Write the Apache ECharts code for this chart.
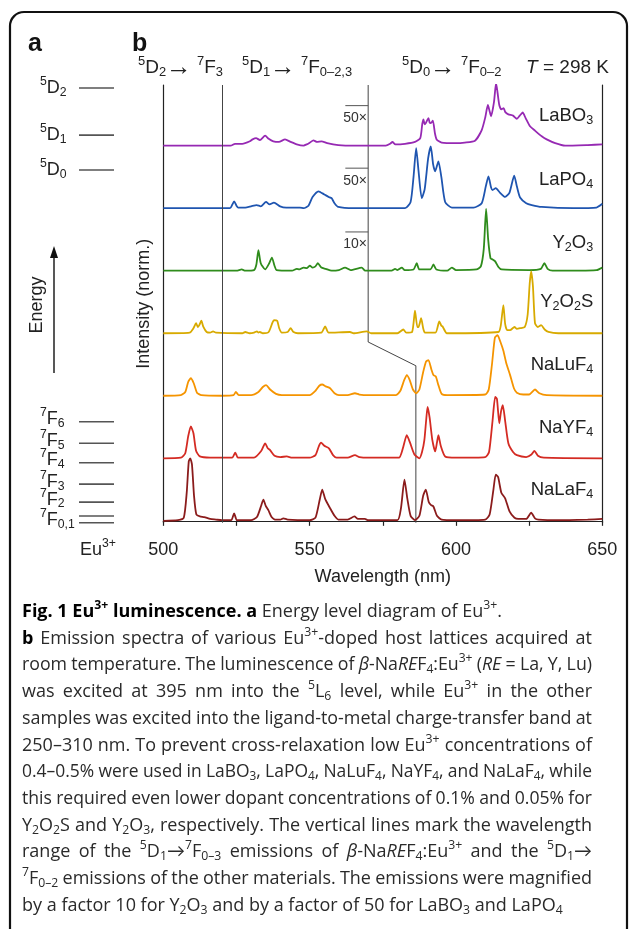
<!DOCTYPE html>
<html>
<head>
<meta charset="utf-8">
<script src="https://cdn.jsdelivr.net/npm/echarts@6/dist/echarts.min.js"></script>
<style>
  html, body { margin: 0; padding: 0; background: #fff; }
  #main { width: 629px; height: 929px; }
</style>
</head>
<body>
<div id="main"></div>
<script>
// spectra: [wavelength (nm), normalized intensity above own baseline]
const LaBO3 = [[500,0],[523,0],[524.5,0.03],[527,0.03],[529.6,0.07],[530.5,0.1],[531.7,0.12],[533,0.09],[534.8,0.16],[536,0.11],[537.6,0.07],[539.5,0.06],[541.6,0.1],[543.5,0.06],[545.6,0.02],[547.9,0],[549,0.02],[550.1,0.05],[551.3,0.085],[552.5,0.06],[554.1,0.07],[556,0.04],[559.8,0.01],[565,0],[576,0],[577.5,0.03],[578.3,0.06],[579.3,0.02],[582.6,0.03],[586,0.06],[587.8,0.12],[588.5,0.35],[588.9,0.42],[589.3,0.34],[589.7,0.36],[590.6,0.44],[591,0.37],[591.4,0.36],[592.1,0.4],[592.8,0.2],[593.4,0.1],[595.1,0.05],[600,0.04],[603,0.05],[606.5,0.08],[608.8,0.25],[610,0.45],[610.9,0.65],[611.5,0.55],[612,0.47],[613,0.7],[613.7,1.0],[614.2,0.85],[614.8,0.65],[615.5,0.58],[616.3,0.6],[616.8,0.54],[617.9,0.5],[619.5,0.48],[620.8,0.43],[621.8,0.48],[622.8,0.53],[623.8,0.44],[625.3,0.31],[627,0.24],[629.3,0.15],[631,0.1],[633.9,0.04],[637.3,0],[645,0.01],[650,0.02]];
const LaPO4 = [[500,0],[522.8,0],[523.5,0.05],[524.2,0.11],[525,0.04],[525.6,0.01],[528,0.01],[530,0.03],[531.9,0.05],[533.3,0.03],[535.1,0.1],[536.3,0.06],[537.8,0.09],[539.9,0.03],[542,0.01],[546.7,0.01],[548,0],[549.6,0.04],[551,0.18],[553,0.27],[555,0.22],[556.5,0.18],[557.5,0.16],[558.5,0.08],[559.8,0.02],[565,0],[582.6,0],[584.5,0.1],[585.5,0.5],[586.4,0.96],[587.2,0.6],[588.3,0.16],[589.3,0.3],[590.5,0.8],[591.4,0.99],[592.2,0.7],[592.9,0.59],[594,0.75],[595,0.5],[596.3,0.1],[598.6,0.01],[606,0.01],[608.8,0.08],[610.2,0.35],[611.1,0.51],[612,0.33],[612.5,0.29],[613.6,0.32],[615,0.25],[616.8,0.18],[618.3,0.25],[619.9,0.52],[620.8,0.35],[621.9,0.17],[624,0.08],[625.9,0.05],[629.3,0.02],[640,0],[648,0.01],[650,0.07]];
const Y2O3 = [[500,0],[525,0],[526.8,0.02],[528,0],[531,0.01],[531.8,0.1],[532.5,0.33],[533.3,0.12],[534.8,0.02],[536.2,0.12],[537.1,0.21],[538,0.08],[538.7,0.01],[544,0],[545.6,0.03],[546.5,0.02],[547.9,0.05],[549,0.04],[550.1,0.08],[551,0.05],[552,0.07],[552.8,0.12],[554,0.05],[555.5,0.03],[557.5,0],[560,0.01],[562.1,0.05],[564,0.01],[567.8,0.05],[569,0],[578,0],[579.2,0.03],[580,0.01],[581.5,0.05],[582.5,0.01],[585.5,0.02],[586.6,0.12],[587.5,0.02],[591.3,0.02],[592.3,0.1],[593.3,0.02],[597,0],[598.6,0.05],[600,0.01],[607,0.02],[608.5,0.07],[609.5,0.35],[610.3,0.99],[611,0.5],[611.8,0.2],[612.5,0.18],[613.4,0.15],[614.5,0.06],[615.6,0.02],[625,0.01],[629,0.03],[630.2,0.12],[631.3,0.03],[633,0],[648,0.01],[650,0.05]];
const Y2O2S = [[500,0],[509,0.01],[510.3,0.08],[511.2,0.16],[511.8,0.1],[512.3,0.13],[513,0.2],[513.7,0.1],[514.8,0.02],[516,0.01],[517,0.03],[518,0.01],[527,0],[528,0.02],[529.5,0],[531,0.01],[532,0.03],[532.5,0.01],[533,0.02],[534,0],[536,0.02],[537.3,0.17],[537.8,0.21],[538.9,0.2],[539.6,0.08],[540.5,0.01],[542.5,0.02],[543.5,0.08],[544.5,0.02],[546,0],[554,0.01],[555.3,0.11],[556.5,0.01],[563.8,0.02],[565,0],[569.5,0.03],[571,0],[580,0],[582,0.06],[583,0.01],[585,0.02],[586,0.36],[586.8,0.1],[587.2,0.1],[588.1,0.24],[588.8,0.08],[589.4,0.01],[593,0.01],[594.3,0.19],[595,0.12],[595.4,0.11],[596.2,0.04],[596.8,0],[614.5,0.02],[615.3,0.12],[616.2,0.45],[616.8,0.15],[617.5,0.05],[618.5,0.05],[620,0.1],[620.8,0.07],[621.9,0.08],[623.5,0.1],[624.5,0.3],[625.2,0.8],[625.7,0.99],[626.3,0.75],[627,0.16],[628,0.1],[629.1,0.13],[630.3,0.06],[631.6,0.02],[635,0],[650,0]];
const NaLuF4 = [[500,0],[506,0.01],[507.5,0.06],[508.5,0.22],[509.4,0.28],[510.4,0.2],[511.5,0.05],[513,0.01],[520,0],[524,0.01],[524.8,0.06],[525.8,0.01],[530,0.01],[532.5,0.06],[534,0.14],[535.1,0.17],[536.5,0.1],[538.5,0.03],[540.5,0.01],[550,0.01],[552,0.08],[553.3,0.16],[554.3,0.18],[555.5,0.15],[557,0.12],[558.5,0.04],[560,0.01],[563,0.01],[565.5,0.04],[567,0.02],[570,0.01],[579.5,0.01],[581,0.08],[582.3,0.25],[583.2,0.33],[584.2,0.25],[585.3,0.1],[586.4,0.04],[587.5,0.1],[588.8,0.38],[589.8,0.55],[590.6,0.57],[591.6,0.42],[592.3,0.33],[593.1,0.31],[594,0.17],[595.1,0.03],[597,0.01],[610,0.02],[611.2,0.1],[612.3,0.5],[613.3,0.93],[614.2,0.97],[615.2,0.86],[616.2,0.72],[617.2,0.52],[618.5,0.33],[619.8,0.12],[620.8,0.05],[623,0.02],[625,0.02],[627,0.1],[628.5,0.04],[631,0.01],[650,0]];
const NaYF4 = [[500,0],[506,0.01],[507.5,0.08],[508.5,0.35],[509.4,0.51],[510.3,0.4],[511.2,0.12],[512.5,0.03],[516,0.01],[523.5,0.01],[524.6,0.09],[525.5,0.01],[531,0.01],[533.5,0.12],[534.8,0.24],[535.7,0.16],[536.5,0.13],[538,0.04],[540,0.02],[542.2,0.03],[544,0.01],[550,0.01],[552,0.05],[553.2,0.2],[553.9,0.25],[555,0.2],[556.6,0.16],[558,0.05],[559.2,0.01],[563,0.01],[565.5,0.05],[567,0.02],[570,0.01],[580.5,0.01],[581.8,0.15],[583.2,0.37],[584.3,0.25],[585.8,0.06],[587.5,0],[588.4,0.1],[589.2,0.29],[589.8,0.6],[590.3,0.82],[591,0.65],[591.9,0.3],[592.9,0.11],[593.5,0.25],[594,0.37],[594.8,0.2],[596.3,0.03],[600,0.01],[610,0.02],[611.3,0.1],[612.5,0.6],[613.4,0.98],[614,0.95],[614.8,0.56],[615.4,0.75],[616,0.85],[616.8,0.6],[617.9,0.24],[619.5,0.1],[620.8,0.05],[624,0.02],[625.8,0.06],[626.8,0.12],[628,0.04],[630,0.01],[650,0]];
const NaLaF4 = [[500,0],[505,0.01],[507,0.05],[508,0.45],[508.7,0.95],[509.2,1.0],[509.8,0.9],[510.5,0.4],[511.3,0.1],[512.5,0.07],[514,0.06],[516,0.03],[518,0.02],[520,0.01],[523.2,0.01],[524.2,0.12],[525.2,0.01],[530,0.01],[532,0.06],[533.5,0.25],[534.2,0.34],[535,0.24],[535.9,0.17],[537,0.06],[538.2,0.02],[540,0.02],[541,0.04],[542.5,0.02],[550,0.01],[552,0.05],[553.5,0.35],[554.3,0.5],[555.3,0.35],[557,0.2],[558.5,0.08],[559.8,0.02],[563,0.02],[565.3,0.07],[566.5,0.03],[568.9,0.03],[570,0.01],[580,0.01],[581.2,0.2],[582.4,0.66],[583.4,0.35],[584.5,0.08],[586,0.01],[587.5,0.08],[588.8,0.4],[589.7,0.5],[590.7,0.3],[591.5,0.25],[592.3,0.23],[593.5,0.08],[595.1,0.02],[600,0.01],[610,0.02],[611.5,0.1],[612.8,0.5],[613.6,0.74],[614.4,0.7],[615.5,0.45],[616.8,0.36],[618.3,0.15],[620,0.05],[621.3,0.03],[624,0.03],[625.7,0.13],[627,0.04],[628.2,0.02],[635,0.01],[645,0.02],[650,0.03]];

const spectra = [LaBO3, LaPO4, Y2O3, Y2O2S, NaLuF4, NaYF4, NaLaF4];
const sampleLabels = ['LaBO{sub|3}', 'LaPO{sub|4}', 'Y{sub|2}O{sub|3}', 'Y{sub|2}O{sub|2}S', 'NaLuF{sub|4}', 'NaYF{sub|4}', 'NaLaF{sub|4}'];
const sampleOffsets = [6, 5, 4, 3, 2, 1, 0];
const sampleColors = ['#9629b3', '#1f55b0', '#2f8c1c', '#d8aa00', '#f59400', '#d42b23', '#8b1c1c'];
const labelLift = [0.47, 0.45, 0.44, 0.5, 0.49, 0.48, 0.49];

// range lines (nm) and the step of the 5D1 boundary
const rangeLineW = 520;
const boundaryW = [570, 570, 586.3, 586.3];
const boundaryI = [6.97, 2.86, 2.48, -0.03];
// magnification marks
const magLevels = [6.64, 5.64, 4.62];
const magText = ['50×', '50×', '10×'];

// energy level diagram (cm-1)
const levelNames = ['{sup|7}F{sub|0,1}', '', '{sup|7}F{sub|2}', '{sup|7}F{sub|3}', '{sup|7}F{sub|4}', '{sup|7}F{sub|5}', '{sup|7}F{sub|6}', '{sup|5}D{sub|0}', '{sup|5}D{sub|1}', '{sup|5}D{sub|2}'];
const levelEnergy = [0, 330, 1020, 1910, 2970, 3930, 5000, 17460, 19190, 21520];

const captionLines = [
  '{b|Fig. 1 Eu}{bsup|3+}{b| luminescence. a} Energy level diagram of Eu{sup|3+}.',
  '{b|b} Emission spectra of various Eu{sup|3+}-doped host lattices acquired at',
  'room temperature. The luminescence of {i|β}-Na{i|RE}F{sub|4}:Eu{sup|3+} ({i|RE} = La, Y, Lu)',
  'was excited at 395 nm into the {sup|5}L{sub|6} level, while Eu{sup|3+} in the other',
  'samples was excited into the ligand-to-metal charge-transfer band at',
  '250–310 nm. To prevent cross-relaxation low Eu{sup|3+} concentrations of',
  '0.4–0.5% were used in LaBO{sub|3}, LaPO{sub|4}, NaLuF{sub|4}, NaYF{sub|4}, and NaLaF{sub|4}, while',
  'this required even lower dopant concentrations of 0.1% and 0.05% for',
  'Y{sub|2}O{sub|2}S and Y{sub|2}O{sub|3}, respectively. The vertical lines mark the wavelength',
  'range of the {sup|5}D{sub|1}→{sup|7}F{sub|0–3} emissions of {i|β}-Na{i|RE}F{sub|4}:Eu{sup|3+} and the {sup|5}D{sub|1}→',
  '{sup|7}F{sub|0–2} emissions of the other materials. The emissions were magnified',
  'by a factor 10 for Y{sub|2}O{sub|3} and by a factor of 50 for LaBO{sub|3} and LaPO{sub|4}'
];
// lines that are set justified in the caption
const captionJustified = [false, true, true, true, true, true, true, true, true, true, true, false];

const FIG_FONT = "'Liberation Sans', Arial, sans-serif";
const CAP_FONT = "'Open Sans', Lato, sans-serif";
const CAP_LEFT = 22, CAP_RIGHT = 592;

function makeRich(size, family, color) {
  const small = size * 0.68;
  return {
    sup: { fontSize: small, fontFamily: family, fill: color, padding: [0, 0, size * 0.72, 0] },
    sub: { fontSize: small, fontFamily: family, fill: color, padding: [size * 0.5, 0, 0, 0] },
    b: { fontSize: size, fontFamily: family, fill: '#000', fontWeight: 'bold' },
    bsup: { fontSize: small, fontFamily: family, fill: '#000', fontWeight: 'bold', padding: [0, 0, size * 0.72, 0] },
    i: { fontSize: size, fontFamily: family, fill: color, fontStyle: 'italic' },
    arr: { fontSize: size * 1.35, fontFamily: family, fill: color }
  };
}

function textStyle(text, o) {
  const size = o.size || 18;
  const family = o.family || FIG_FONT;
  const color = o.color || '#222';
  return {
    text: text, fontSize: size, fontFamily: family, fill: color,
    fontWeight: o.weight || 'normal', fontStyle: o.style || 'normal',
    align: o.align || 'left', textAlign: o.align || 'left',
    verticalAlign: 'middle', textVerticalAlign: 'middle',
    lineHeight: size * 1.2,
    rich: makeRich(size, family, color)
  };
}

function txt(x, y, text, o) {
  o = o || {};
  return { type: 'text', x: x, y: y, rotation: o.rotation || 0, silent: true, style: textStyle(text, o) };
}

function measure(text, o) {
  const t = new echarts.graphic.Text({ style: textStyle(text, o) });
  return t.getBoundingRect().width;
}

const chart = echarts.init(document.getElementById('main'));

const spectrumSeries = spectra.map(function (d, k) {
  return {
    type: 'line', name: sampleLabels[k], xAxisIndex: 0, yAxisIndex: 0,
    data: d.map(function (p) { return [p[0], p[1] + sampleOffsets[k]]; }),
    symbol: 'none', smooth: 0.2, animation: false, z: 3,
    lineStyle: { color: sampleColors[k], width: 1.8 }
  };
});

const option = {
  backgroundColor: '#fff',
  animation: false,
  grid: [
    { left: 163.3, right: 26.7, top: 85, bottom: 406.3 },
    { left: 79, width: 35, top: 85, bottom: 406.3 }
  ],
  xAxis: [
    {
      type: 'value', gridIndex: 0, min: 500, max: 650, interval: 25,
      name: 'Wavelength (nm)', nameLocation: 'middle', nameGap: 45,
      nameTextStyle: { fontSize: 18, fontFamily: FIG_FONT, color: '#222' },
      axisLine: { lineStyle: { color: '#222', width: 1.2 } },
      axisTick: { show: true, length: 5, lineStyle: { color: '#222', width: 1.2 } },
      axisLabel: {
        fontSize: 18, fontFamily: FIG_FONT, color: '#222', margin: 18,
        formatter: function (v) { return v % 50 === 0 ? String(v) : ''; }
      },
      splitLine: { show: false }
    },
    { type: 'value', gridIndex: 1, min: 0, max: 1, show: false }
  ],
  yAxis: [
    {
      type: 'value', gridIndex: 0, min: -0.03, max: 6.97,
      name: 'Intensity (norm.)', nameLocation: 'middle', nameGap: 10, nameRotate: 90,
      nameTextStyle: { fontSize: 18, fontFamily: FIG_FONT, color: '#222' },
      axisLine: { show: true, lineStyle: { color: '#222', width: 1.2 } },
      axisTick: { show: false }, axisLabel: { show: false }, splitLine: { show: false }
    },
    {
      type: 'value', gridIndex: 0, position: 'right', min: -0.03, max: 6.97,
      axisLine: { show: true, lineStyle: { color: '#222', width: 1.2 } },
      axisTick: { show: false }, axisLabel: { show: false }, splitLine: { show: false }
    },
    { type: 'value', gridIndex: 1, min: 0, max: 21670, show: false }
  ],
  series: spectrumSeries.concat([
    {
      type: 'line', xAxisIndex: 0, yAxisIndex: 0, symbol: 'none', animation: false, z: 2,
      data: boundaryW.map(function (w, i) { return [w, boundaryI[i]]; }),
      lineStyle: { color: '#444', width: 1 },
      markLine: {
        silent: true, symbol: ['none', 'none'], animation: false,
        label: { show: false },
        lineStyle: { color: '#444', width: 1, type: 'solid' },
        data: [{ xAxis: rangeLineW }]
      }
    }
  ]).concat(magLevels.map(function (lv) {
    return {
      type: 'line', xAxisIndex: 0, yAxisIndex: 0, symbol: 'none', animation: false, z: 2,
      data: [[562.2, lv], [570, lv]],
      lineStyle: { color: '#555', width: 1 }
    };
  })).concat([
    {
      type: 'custom', xAxisIndex: 1, yAxisIndex: 2, animation: false, silent: true,
      data: levelEnergy.map(function (e) { return [0, e]; }),
      encode: { x: 0, y: 1 },
      renderItem: function (params, api) {
        const e = api.value(1);
        const a = api.coord([0, e]);
        const b = api.coord([1, e]);
        return { type: 'line', shape: { x1: a[0], y1: a[1], x2: b[0], y2: b[1] },
                 style: { stroke: '#555', lineWidth: 1.6 } };
      }
    }
  ])
};

chart.setOption(option);

const px = function (w, v) { return chart.convertToPixel({ gridIndex: 0 }, [w, v]); };
const lpx = function (e) { return chart.convertToPixel({ gridIndex: 1 }, [0, e]); };

const g = [];
// frame
g.push({ type: 'rect', silent: true, shape: { x: 10, y: 12, width: 617, height: 930, r: 14 },
         style: { fill: 'none', stroke: '#111', lineWidth: 2.2 } });
// panel letters
g.push(txt(28, 44, 'a', { size: 25, weight: 'bold', color: '#111' }));
g.push(txt(132, 44, 'b', { size: 25, weight: 'bold', color: '#111' }));
// headers
const hdr = { size: 19 };
g.push(txt(138, 68, '{sup|5}D{sub|2}{arr|→} {sup|7}F{sub|3}', hdr));
g.push(txt(242, 68, '{sup|5}D{sub|1}{arr|→} {sup|7}F{sub|0–2,3}', hdr));
g.push(txt(402, 68, '{sup|5}D{sub|0}{arr|→} {sup|7}F{sub|0–2}', hdr));
g.push(txt(609, 68, '{i|T} = 298 K', { size: 19, align: 'right' }));

// sample labels
sampleLabels.forEach(function (s, k) {
  const p = px(646.9, sampleOffsets[k] + labelLift[k]);
  g.push(txt(p[0], p[1], s, { align: 'right', size: 18.5 }));
});
// magnification labels
magLevels.forEach(function (lv, k) {
  const p = px(569.6, lv);
  g.push(txt(p[0], p[1] + 12.6, magText[k], { size: 14, align: 'right', color: '#333' }));
});

// energy levels labels
levelNames.forEach(function (n, k) {
  if (!n) return;
  const y = lpx(levelEnergy[k])[1];
  const dy = k < 7 ? -2.5 : 0;
  g.push(txt(40, y + dy, n));
});
g.push(txt(80, 550, 'Eu{sup|3+}'));
// energy arrow
g.push({ type: 'line', silent: true, shape: { x1: 54, y1: 373, x2: 54, y2: 255 },
         style: { stroke: '#111', lineWidth: 1.4 } });
g.push({ type: 'polygon', silent: true, shape: { points: [[54, 246], [50, 258], [58, 258]] },
         style: { fill: '#111' } });
g.push(txt(37, 305, 'Energy', { align: 'center', rotation: Math.PI / 2 }));

// caption, justified like the printed figure legend
const CAP_SIZE = 18, MIN_GAP = 4.2;
captionLines.forEach(function (line, i) {
  const y = 612 + i * 26.7;
  let capOpt = { size: CAP_SIZE, family: CAP_FONT, color: '#2a2a2a' };
  if (!captionJustified[i]) {
    g.push(txt(CAP_LEFT, y, line, capOpt));
    return;
  }
  const words = line.split(' ');
  let widths = words.map(function (w) { return measure(w, capOpt); });
  let total = widths.reduce(function (s, w) { return s + w; }, 0);
  const room = CAP_RIGHT - CAP_LEFT - MIN_GAP * (words.length - 1);
  if (total > room) {
    // tight line: shrink the type a little so words keep a visible space
    capOpt = { size: CAP_SIZE * room / total, family: CAP_FONT, color: '#2a2a2a' };
    widths = words.map(function (w) { return measure(w, capOpt); });
    total = widths.reduce(function (s, w) { return s + w; }, 0);
  }
  const gap = (CAP_RIGHT - CAP_LEFT - total) / (words.length - 1);
  let x = CAP_LEFT;
  words.forEach(function (w, j) {
    g.push(txt(x, y, w, capOpt));
    x += widths[j] + gap;
  });
});

chart.setOption({ graphic: { elements: g } });
</script>
</body>
</html>
